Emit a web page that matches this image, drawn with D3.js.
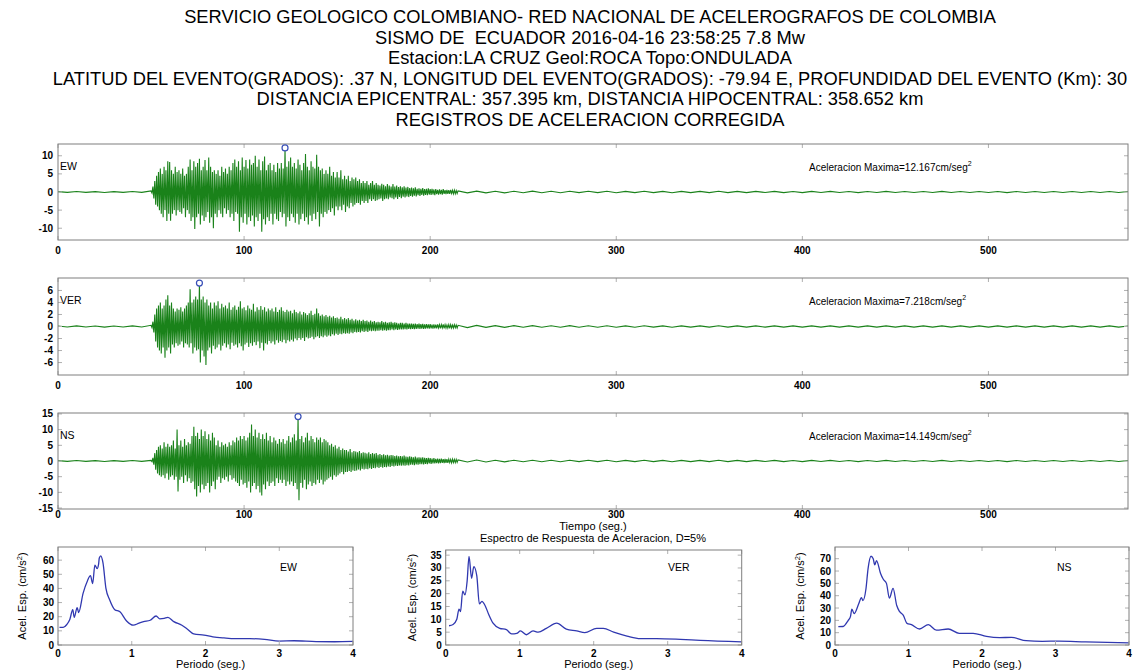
<!DOCTYPE html>
<html lang="es">
<head>
<meta charset="UTF-8">
<title>Registros de aceleracion - Estacion LA CRUZ</title>
<script src="https://d3js.org/d3.v7.min.js"></script>
<style>
    body { margin: 0; background: #ffffff; }
    svg text { font-family: "Liberation Sans", Arial, Helvetica, sans-serif; fill: #000; }
    .title { font-size: 18.3px; text-anchor: middle; white-space: pre; }
    .tick-num { font-size: 10px; font-weight: bold; }
    .comp { font-size: 10.5px; }
    .maxlab { font-size: 10px; }
    .axis-title { font-size: 11px; }
    .frame { fill: none; stroke: #7f7f7f; stroke-width: 1; }
    .tick-mark { stroke: #b0b0b0; stroke-width: 1; }
    .trace { fill: none; stroke: #1a821a; stroke-width: 1.1; }
    .spec { fill: none; stroke: #3038b0; stroke-width: 1.3; }
    .peak { fill: #ffffff; stroke: #3a50b8; stroke-width: 1.2; }
</style>
</head>
<body>
<svg id="chart" width="1135" height="670"></svg>
<script>
// ---- title text ----
const titleLines = [
    "SERVICIO GEOLOGICO COLOMBIANO- RED NACIONAL DE ACELEROGRAFOS DE COLOMBIA",
    "SISMO DE  ECUADOR 2016-04-16 23:58:25 7.8 Mw",
    "Estacion:LA CRUZ Geol:ROCA Topo:ONDULADA",
    "LATITUD DEL EVENTO(GRADOS): .37 N, LONGITUD DEL EVENTO(GRADOS): -79.94 E, PROFUNDIDAD DEL EVENTO (Km): 30",
    "DISTANCIA EPICENTRAL: 357.395 km, DISTANCIA HIPOCENTRAL: 358.652 km",
    "REGISTROS DE ACELERACION CORREGIDA"
];

const components = ["EW", "VER", "NS"];
const peakTimes = [122, 76, 129];          // s
const peakValues = [12.167, 7.218, 14.149]; // cm/s2

const timeTicks = [0, 100, 200, 300, 400, 500];
const ewTicks = [-10, -5, 0, 5, 10];
const verTicks = [-6, -4, -2, 0, 2, 4, 6];
const nsTicks = [-15, -10, -5, 0, 5, 10, 15];

// ---- accelerograms (cm/s2) ----
// pre-event: t = 0, 5, ... 45
const ewPre = [0.1, -0.1, 0.12, -0.1, 0.1, -0.12, 0.1, -0.1, 0.12, -0.1];
const verPre = [0.08, -0.08, 0.1, -0.08, 0.08, -0.1, 0.08, -0.08, 0.1, -0.08];
const nsPre = [0.12, -0.12, 0.15, -0.12, 0.12, -0.15, 0.12, -0.12, 0.15, -0.12];

// strong motion: per second, t = 50 ... 214, positive and negative peaks
const ewHi = [
    0.3, 1.5, 3, 4.5, 5.5,   6.5, 5, 7, 6, 8.5,   8.3, 6, 5, 7, 5.5,   6, 5, 6.5, 4.5, 5,
    7, 9, 6, 8.5, 7,   8, 9.2, 6, 7, 8.8,   6, 9.5, 7, 5.5, 6,   5, 6, 4.5, 7, 5.5,
    6.5, 5, 7, 6, 8,   9, 7, 8.5, 6, 9.5,   7, 8.8, 6.5, 9, 7.5,   8, 10, 7, 9, 6,
    8.5, 9.8, 6, 7.5, 8,   6, 7.5, 5.5, 8, 6.5,   8, 6.5, 12.167, 7, 8.5,   9.5, 7, 8, 6.5, 9,
    7.5, 6, 8, 10.5, 7,   6, 8.5, 7, 6.5, 10.3,   7, 6, 6.5, 5, 6,   5, 7, 4.5, 5.5, 4,
    5.5, 4, 6, 3.5, 4.5,   3.5, 4.5, 3, 4, 3.5,   4, 3, 3.5, 2.5, 3,   2.5, 3, 2, 2.5, 3,
    2, 2.5, 2, 1.8, 2.3,   2, 1.6, 2.2, 1.8, 1.5,   2.2, 1.5, 1.8, 1.4, 1.6,   1.3, 1.6, 1.2, 1.4, 1.1,
    1.2, 1, 1.3, 0.9, 1,   0.9, 1.1, 0.8, 0.9, 1,   0.8, 0.9, 0.7, 0.8, 0.6,   0.7, 0.6, 0.8, 0.5, 0.6,
    0.5, 0.6, 0.45, 0.5, 0.4
];
const ewLo = [
    -0.3, -1.8, -3.5, -4, -5,   -6, -7, -5, -8, -6,   -7.9, -6, -5, -6.5, -5,   -5.5, -6, -4.5, -7, -5,
    -6, -8, -7, -10.2, -7,   -6, -9, -6.5, -8, -7,   -5.5, -8.5, -7, -10, -6,   -7, -5, -6, -7, -4.5,
    -6, -5, -7, -6, -8,   -5.5, -6, -11, -7, -8.5,   -6, -9, -7, -8, -6.5,   -9.5, -7, -8, -6, -11,
    -7.5, -9, -7, -8, -6,   -9, -6, -7.5, -8, -5.5,   -7, -6, -9.5, -7, -8,   -6, -7, -8.5, -6, -9,
    -7.5, -6, -8, -7, -9,   -6.5, -8, -6, -7.5, -5.5,   -9.5, -6, -7, -5.5, -6,   -5, -5.5, -4.5, -6.5, -4,
    -5, -4, -5, -3.5, -5.5,   -4, -4.5, -3, -4, -3.5,   -3, -3, -3.5, -2.5, -3,   -2.5, -3, -2, -2.5, -2,
    -2.5, -2.3, -2, -1.8, -2.5,   -2, -1.8, -2, -1.5, -1.7,   -2, -1.5, -1.9, -1.4, -1.7,   -1.3, -1.5, -1.2, -1.4, -1.1,
    -1.3, -1, -1.2, -0.9, -1.1,   -0.8, -1, -0.8, -0.9, -0.7,   -0.8, -0.7, -0.9, -0.6, -0.7,   -0.6, -0.7, -0.5, -0.6, -0.5,
    -0.5, -0.4, -0.5, -0.45, -0.4
];
const verHi = [
    0.2, 0.8, 2, 3, 3.5,   4, 3, 3.5, 4.5, 5.2,   3.5, 4, 3, 2.5, 3,   2.8, 3.2, 2.5, 3, 3.5,
    4, 6.2, 4, 4.5, 5,   4.5, 7.218, 4.5, 5, 4,   4.5, 3.5, 4, 3, 4,   3.5, 4.2, 3, 3.8, 3.2,
    3.5, 3, 4, 2.8, 3.2,   3.5, 2.8, 3.3, 4.2, 3,   3.2, 2.7, 3.5, 3, 2.8,   3.8, 2.5, 3.2, 2.8, 3.4,
    2.8, 3.2, 2.5, 3, 2.7,   3, 2.5, 3.2, 2.4, 2.8,   3.2, 2.6, 2.4, 2.8, 2.5,   2.6, 2.2, 2.8, 2.4, 2.2,
    2.5, 2, 2.4, 2.2, 1.9,   2.2, 2.6, 1.9, 2.1, 3,   2.2, 1.8, 2, 1.7, 1.9,   1.6, 1.8, 1.5, 1.7, 1.4,
    1.5, 1.3, 1.6, 1.2, 1.4,   1.2, 1.4, 1.1, 1.3, 1,   1.2, 1, 1.1, 0.9, 1.1,   0.9, 1, 0.8, 1, 0.8,
    0.9, 0.7, 0.8, 0.7, 0.9,   0.7, 0.8, 0.6, 0.7, 0.8,   0.6, 0.7, 0.6, 0.5, 0.6,   0.6, 0.5, 0.6, 0.5, 0.5,
    0.5, 0.45, 0.5, 0.4, 0.5,   0.4, 0.45, 0.35, 0.4, 0.35,   0.4, 0.3, 0.35, 0.3, 0.35,   0.3, 0.3, 0.35, 0.3, 0.25,
    0.3, 0.3, 0.25, 0.3, 0.25
];
const verLo = [
    -0.2, -1, -2.5, -3.5, -4,   -4.5, -3.5, -5.2, -4, -3.5,   -4.5, -3, -3.5, -2.8, -3.2,   -3, -2.5, -3.5, -2.8, -3,
    -3.5, -2.8, -4.5, -3.5, -4,   -3.8, -6, -4, -5, -6.4,   -4, -3.5, -4.5, -3.2, -3.8,   -3.5, -3, -4, -3.2, -2.8,
    -3.5, -3, -3.8, -2.7, -3.2,   -3, -3.5, -2.8, -3.3, -4,   -3, -2.7, -3.4, -2.8, -3.2,   -2.6, -3.1, -2.5, -3.6, -2.7,
    -4, -2.8, -3, -2.4, -2.8,   -2.5, -3, -2.3, -2.7, -2.4,   -2.6, -2.2, -2.8, -2.3, -2.5,   -2.2, -2.5, -2, -2.3, -1.9,
    -2.2, -1.9, -2.4, -1.8, -2,   -1.9, -1.7, -2.1, -1.8, -1.6,   -1.9, -1.6, -1.8, -1.5, -1.7,   -1.5, -1.6, -1.3, -1.5, -1.2,
    -1.4, -1.2, -1.3, -1.1, -1.2,   -1.1, -1.2, -1, -1.1, -0.9,   -1, -0.9, -1, -0.8, -0.9,   -0.8, -0.9, -0.7, -0.8, -0.7,
    -0.8, -0.7, -0.7, -0.6, -0.7,   -0.6, -0.7, -0.6, -0.6, -0.5,   -0.6, -0.5, -0.55, -0.5, -0.5,   -0.5, -0.45, -0.5, -0.4, -0.45,
    -0.4, -0.45, -0.4, -0.35, -0.4,   -0.35, -0.4, -0.35, -0.3, -0.35,   -0.3, -0.35, -0.3, -0.3, -0.25,   -0.3, -0.25, -0.3, -0.25, -0.25,
    -0.3, -0.25, -0.25, -0.2, -0.25
];
const nsHi = [
    0.2, 1, 2.5, 3.5, 4.5,   5, 4, 6, 4.5, 5.5,   4.5, 5, 6.5, 4, 10,   5, 6.5, 4.5, 7, 5,
    6, 5.5, 8, 10.9, 8,   9, 7, 10, 8, 9.5,   7, 8.5, 6.5, 9, 7.5,   5, 6.5, 4.5, 6, 5,
    5.5, 4.5, 6, 5, 6.5,   6, 7.5, 6.5, 8, 7,   8, 6.5, 7.5, 9, 11.6,   8, 10, 7.5, 9, 7,
    8.5, 7, 9, 6.5, 8,   6, 7.5, 6.5, 5.5, 7,   6, 7, 5.5, 6.5, 8,   6, 7.5, 8.5, 6.5, 14.149,
    7, 8, 6, 7.5, 9,   6.5, 8, 7, 6, 7.5,   6.8, 7.5, 6, 7, 6.5,   6, 5, 5.5, 4.5, 5,
    4, 4.5, 3.5, 4, 3.5,   3.5, 3, 3.8, 2.8, 3.2,   3, 2.8, 3.2, 2.5, 2.8,   2.6, 2.4, 2.8, 2.2, 2.5,
    2.3, 2.5, 2, 2.2, 1.9,   2.1, 1.8, 2, 1.7, 1.9,   1.8, 1.6, 1.7, 1.5, 1.6,   1.5, 1.7, 1.4, 1.3, 1.5,
    1.3, 1.2, 1.4, 1.1, 1.2,   1.1, 1.2, 1, 0.9, 1,   0.9, 0.8, 0.9, 0.7, 0.8,   0.7, 0.8, 0.6, 0.7, 0.6,
    0.6, 0.5, 0.6, 0.5, 0.5
];
const nsLo = [
    -0.2, -1.2, -2.8, -4, -4.5,   -5, -4.5, -5.5, -4, -6,   -5, -4.5, -6, -5, -9.7,   -6, -5, -7, -4.5, -6.5,
    -5.5, -7, -6.5, -9, -11.3,   -8, -10, -7.5, -9, -8,   -7, -10, -8, -6.5, -9,   -6, -5, -7, -5.5, -6,
    -5, -6.5, -4.5, -6, -5.5,   -6.5, -7, -8, -6, -7.5,   -7, -8.5, -6.5, -10, -8,   -7, -9, -8, -10, -11,
    -7.5, -9, -6.5, -8, -7,   -6.5, -8, -5.5, -7, -6,   -7, -6, -8, -6.5, -7.5,   -6.5, -8, -7, -9, -12.5,
    -7, -8.5, -6, -9, -7.5,   -6.5, -8, -7, -7.5, -6,   -7, -6, -7.5, -6.5, -6,   -5.5, -5, -6, -4.5, -5,
    -4.5, -4, -3.5, -4.2, -3.5,   -3.5, -3.2, -3.5, -3, -3.2,   -3, -2.7, -3, -2.5, -2.7,   -2.5, -2.6, -2.3, -2.5, -2.2,
    -2.3, -2, -2.2, -1.9, -2.1,   -1.9, -2, -1.7, -1.9, -1.6,   -1.7, -1.5, -1.6, -1.4, -1.5,   -1.4, -1.5, -1.3, -1.4, -1.2,
    -1.2, -1.3, -1.1, -1.2, -1,   -1, -1.1, -0.9, -1, -0.8,   -0.9, -0.8, -0.8, -0.7, -0.8,   -0.7, -0.6, -0.7, -0.6, -0.6,
    -0.5, -0.6, -0.5, -0.5, -0.45
];

// coda: t = 215, 220, ... 575
const ewTail = [
    0.3, -0.25, 0.25, -0.25, 0.2,   -0.25, 0.2, -0.2, 0.25, -0.2,   0.2, -0.2, 0.22, -0.18, 0.2,
    -0.18, 0.2, -0.2, 0.18, -0.18,   0.2, -0.18, 0.18, -0.2, 0.18,   -0.18, 0.18, -0.18, 0.2, -0.18,
    0.18, -0.18, 0.18, -0.15, 0.18,   -0.18, 0.15, -0.18, 0.18, -0.15,   0.18, -0.15, 0.15, -0.18, 0.15,
    -0.15, 0.18, -0.15, 0.15, -0.15,   0.15, -0.15, 0.18, -0.15, 0.15,   -0.15, 0.15, -0.15, 0.15, -0.18,
    0.15, -0.15, 0.15, -0.15, 0.15,   -0.15, 0.15, -0.15, 0.15, -0.15,   0.15, -0.15, 0.12
];
const verTail = [
    0.2, -0.18, 0.18, -0.15, 0.15,   -0.15, 0.14, -0.12, 0.15, -0.12,   0.12, -0.12, 0.14, -0.12, 0.12,
    -0.12, 0.12, -0.12, 0.1, -0.12,   0.12, -0.1, 0.1, -0.12, 0.1,   -0.1, 0.1, -0.1, 0.12, -0.1,
    0.1, -0.1, 0.1, -0.1, 0.1,   -0.1, 0.1, -0.1, 0.1, -0.1,   0.1, -0.1, 0.1, -0.1, 0.1,
    -0.1, 0.1, -0.1, 0.1, -0.1,   0.1, -0.1, 0.1, -0.1, 0.1,   -0.1, 0.1, -0.1, 0.1, -0.1,
    0.1, -0.1, 0.1, -0.1, 0.1,   -0.1, 0.1, -0.1, 0.1, -0.1,   0.1, -0.1, 0.08
];
const nsTail = [
    0.35, -0.3, 0.3, -0.3, 0.25,   -0.28, 0.25, -0.22, 0.25, -0.22,   0.22, -0.22, 0.25, -0.2, 0.22,
    -0.2, 0.22, -0.22, 0.2, -0.2,   0.22, -0.2, 0.2, -0.22, 0.2,   -0.2, 0.2, -0.2, 0.22, -0.2,
    0.2, -0.2, 0.2, -0.18, 0.2,   -0.2, 0.18, -0.2, 0.2, -0.18,   0.2, -0.18, 0.18, -0.2, 0.18,
    -0.18, 0.2, -0.18, 0.18, -0.18,   0.18, -0.18, 0.2, -0.18, 0.18,   -0.18, 0.18, -0.18, 0.18, -0.2,
    0.18, -0.18, 0.18, -0.18, 0.18,   -0.18, 0.18, -0.18, 0.18, -0.18,   0.18, -0.18, 0.15
];

// ---- response spectra, D=5% (period s, Sa cm/s2) ----
const periodTicks = [0, 1, 2, 3, 4];
const ewSpecTicks = [0, 10, 20, 30, 40, 50, 60];
const verSpecTicks = [0, 5, 10, 15, 20, 25, 30, 35];
const nsSpecTicks = [0, 10, 20, 30, 40, 50, 60, 70];

const ewSpecT = [0.02, 0.07, 0.12, 0.16, 0.2, 0.22, 0.26, 0.28, 0.34, 0.4, 0.44, 0.47, 0.5, 0.53, 0.55, 0.56, 0.58, 0.61,
    0.65, 0.7, 0.77, 0.84, 0.93, 1.02, 1.1, 1.16, 1.25, 1.33, 1.38, 1.44, 1.49, 1.57, 1.68, 1.76, 1.84, 1.98,
    2.1, 2.25, 2.4, 2.6, 2.8, 3.0, 3.2, 3.5, 3.75, 4];
const ewSpecV = [12.5, 12.5, 14.5, 18, 25, 19.5, 26.5, 23, 36.5, 45.5, 49, 43.5, 56.5, 54, 57, 61.5, 63, 58,
    40, 32, 25, 23.5, 17, 14, 15.5, 16.5, 17.5, 20.5, 18.5, 18.8, 19.5, 16.5, 14, 11, 7.8, 7,
    5.8, 5, 4.5, 4.5, 4, 2.8, 3, 2.4, 2.3, 2.5];

const verSpecT = [0.045, 0.1, 0.15, 0.18, 0.2, 0.23, 0.26, 0.29, 0.315, 0.35, 0.38, 0.42, 0.455, 0.49, 0.53, 0.58,
    0.64, 0.73, 0.82, 0.89, 0.96, 1.01, 1.09, 1.18, 1.25, 1.36, 1.5, 1.63, 1.77, 1.88, 2.04, 2.13, 2.27,
    2.45, 2.63, 2.85, 3.17, 3.44, 4];
const verSpecV = [7.5, 8, 10, 14, 13, 21, 19.5, 25, 34.5, 26, 30.5, 27, 16, 17, 15.5, 12,
    8.5, 6.5, 6, 4.3, 4.5, 5.5, 4, 5.5, 5, 6.5, 8.5, 6.2, 5.5, 4.8, 6.5, 6.5, 5,
    3.5, 2.5, 2.5, 2.2, 1.8, 1.2];

const nsSpecT = [0.045, 0.11, 0.18, 0.21, 0.23, 0.26, 0.32, 0.36, 0.38, 0.42, 0.45, 0.49, 0.52, 0.54, 0.565, 0.62,
    0.655, 0.7, 0.74, 0.79, 0.84, 0.88, 0.93, 0.98, 1.04, 1.15, 1.27, 1.38, 1.54, 1.69, 1.88, 2.06, 2.24,
    2.4, 2.6, 2.82, 3.05, 3.41, 4];
const nsSpecV = [14.9, 15, 20, 23, 29, 25.5, 33, 38.5, 36, 45, 62, 72, 70, 65, 68.5, 58,
    53.5, 50, 38, 46, 32, 27, 24, 17.5, 16.5, 13, 16.5, 12, 13, 9.5, 9.5, 7, 6,
    6.2, 3.5, 3, 3.2, 2.5, 1.8];

// ---- drawing ----
const svg = d3.select("#chart");

svg.selectAll(".title")
    .data(titleLines)
    .enter()
    .append("text")
    .attr("class", "title")
    .attr("x", 590)
    .attr("y", (d, i) => 23 + i * 20.6)
    .text(d => d);

const x = d3.scaleLinear().domain([0, 575]).range([58, 1128]);

const traces = [
    { pre: ewPre, hi: ewHi, lo: ewLo, tail: ewTail, ticks: ewTicks, top: 144, bottom: 240, yMax: 13.25, labBase: 254 },
    { pre: verPre, hi: verHi, lo: verLo, tail: verTail, ticks: verTicks, top: 278, bottom: 375, yMax: 8.07, labBase: 389 },
    { pre: nsPre, hi: nsHi, lo: nsLo, tail: nsTail, ticks: nsTicks, top: 413, bottom: 509, yMax: 15.3, labBase: 518 }
];

function drawFrame(g, xs, ys, xTicks, yTicks) {
    const [x0, x1] = xs.range();
    const [y0, y1] = [ys.range()[1], ys.range()[0]];
    const tl = 4;
    xTicks.forEach(v => {
        g.append("line").attr("class", "tick-mark")
            .attr("x1", xs(v)).attr("x2", xs(v)).attr("y1", y1).attr("y2", y1 - tl);
        g.append("line").attr("class", "tick-mark")
            .attr("x1", xs(v)).attr("x2", xs(v)).attr("y1", y0).attr("y2", y0 + tl);
    });
    yTicks.forEach(v => {
        g.append("line").attr("class", "tick-mark")
            .attr("x1", x0).attr("x2", x0 + tl).attr("y1", ys(v)).attr("y2", ys(v));
        g.append("line").attr("class", "tick-mark")
            .attr("x1", x1).attr("x2", x1 - tl).attr("y1", ys(v)).attr("y2", ys(v));
    });
    g.append("rect").attr("class", "frame")
        .attr("x", x0).attr("y", y0)
        .attr("width", x1 - x0).attr("height", y1 - y0);
}

traces.forEach((p, k) => {
    const y = d3.scaleLinear().domain([-p.yMax, p.yMax]).range([p.bottom, p.top]);
    const g = svg.append("g");

    // build the record: pre-event, strong motion (peak pairs), coda
    const pts = [];
    p.pre.forEach((v, i) => pts.push([i * 5, v]));
    p.hi.forEach((v, i) => {
        pts.push([50 + i, v]);
        pts.push([50.5 + i, p.lo[i]]);
    });
    p.tail.forEach((v, i) => pts.push([215 + i * 5, v]));

    const clipId = "clip" + k;
    g.append("clipPath").attr("id", clipId)
        .append("rect").attr("x", 58).attr("y", p.top).attr("width", 1070).attr("height", p.bottom - p.top);

    g.append("path")
        .datum(pts)
        .attr("class", "trace")
        .attr("clip-path", `url(#${clipId})`)
        .attr("d", d3.line().x(d => x(d[0])).y(d => y(d[1])));

    drawFrame(g, x, y, timeTicks, p.ticks);

    // tick labels
    g.selectAll(".ylab").data(p.ticks).enter().append("text")
        .attr("class", "tick-num")
        .attr("x", 53).attr("y", d => y(d) + 3.5)
        .attr("text-anchor", "end")
        .text(d => d);
    g.selectAll(".xlab").data(timeTicks).enter().append("text")
        .attr("class", "tick-num")
        .attr("x", d => x(d)).attr("y", p.labBase)
        .attr("text-anchor", "middle")
        .text(d => d);

    // peak marker
    g.append("circle").attr("class", "peak")
        .attr("cx", x(peakTimes[k])).attr("cy", y(peakValues[k])).attr("r", 3);

    g.append("text").attr("class", "comp")
        .attr("x", 60).attr("y", p.top + 26)
        .text(components[k]);

    const ml = g.append("text").attr("class", "maxlab")
        .attr("x", 809).attr("y", p.top + 27);
    ml.append("tspan").text(`Aceleracion Maxima=${peakValues[k]}cm/seg`);
    ml.append("tspan").attr("dy", -5).attr("font-size", "7px").text("2");
});

svg.append("text").attr("class", "axis-title")
    .attr("x", 593).attr("y", 530).attr("text-anchor", "middle")
    .text("Tiempo (seg.)");
svg.append("text").attr("class", "axis-title")
    .attr("x", 593).attr("y", 542).attr("text-anchor", "middle")
    .text("Espectro de Respuesta de Aceleracion, D=5%");

// spectra panels
const spectra = [
    { t: ewSpecT, v: ewSpecV, ticks: ewSpecTicks, left: 58, right: 353, top: 547, yMax: 69.3, labX: 22, nameX: 280 },
    { t: verSpecT, v: verSpecV, ticks: verSpecTicks, left: 445.7, right: 741.7, top: 550, yMax: 37, labX: 412, nameX: 668 },
    { t: nsSpecT, v: nsSpecV, ticks: nsSpecTicks, left: 835, right: 1129, top: 547, yMax: 79.5, labX: 800, nameX: 1057 }
];

spectra.forEach((s, k) => {
    const bottom = 645;
    const xs = d3.scaleLinear().domain([0, 4]).range([s.left, s.right]);
    const ys = d3.scaleLinear().domain([0, s.yMax]).range([bottom, s.top]);
    const g = svg.append("g");

    g.append("path")
        .datum(d3.zip(s.t, s.v))
        .attr("class", "spec")
        .attr("d", d3.line().curve(d3.curveMonotoneX).x(d => xs(d[0])).y(d => ys(d[1])));

    drawFrame(g, xs, ys, periodTicks, s.ticks);

    g.selectAll(".ylab").data(s.ticks).enter().append("text")
        .attr("class", "tick-num")
        .attr("x", s.left - 4).attr("y", d => ys(d) + 3.5)
        .attr("text-anchor", "end")
        .text(d => d);
    g.selectAll(".xlab").data(periodTicks).enter().append("text")
        .attr("class", "tick-num")
        .attr("x", d => xs(d)).attr("y", 657)
        .attr("text-anchor", "middle")
        .text(d => d);

    g.append("text").attr("class", "comp")
        .attr("x", s.nameX).attr("y", 571)
        .text(components[k]);

    g.append("text").attr("class", "axis-title")
        .attr("x", (s.left + s.right) / 2 + 5).attr("y", 668)
        .attr("text-anchor", "middle")
        .text("Periodo (seg.)");

    const yl = g.append("text").attr("class", "axis-title")
        .attr("transform", `translate(${s.labX + 4},${(s.top + bottom) / 2}) rotate(-90)`)
        .attr("text-anchor", "middle");
    yl.append("tspan").text("Acel. Esp. (cm/s");
    yl.append("tspan").attr("dy", -4).attr("font-size", "7.5px").text("2");
    yl.append("tspan").attr("dy", 4).text(")");
});
</script>
</body>
</html>
